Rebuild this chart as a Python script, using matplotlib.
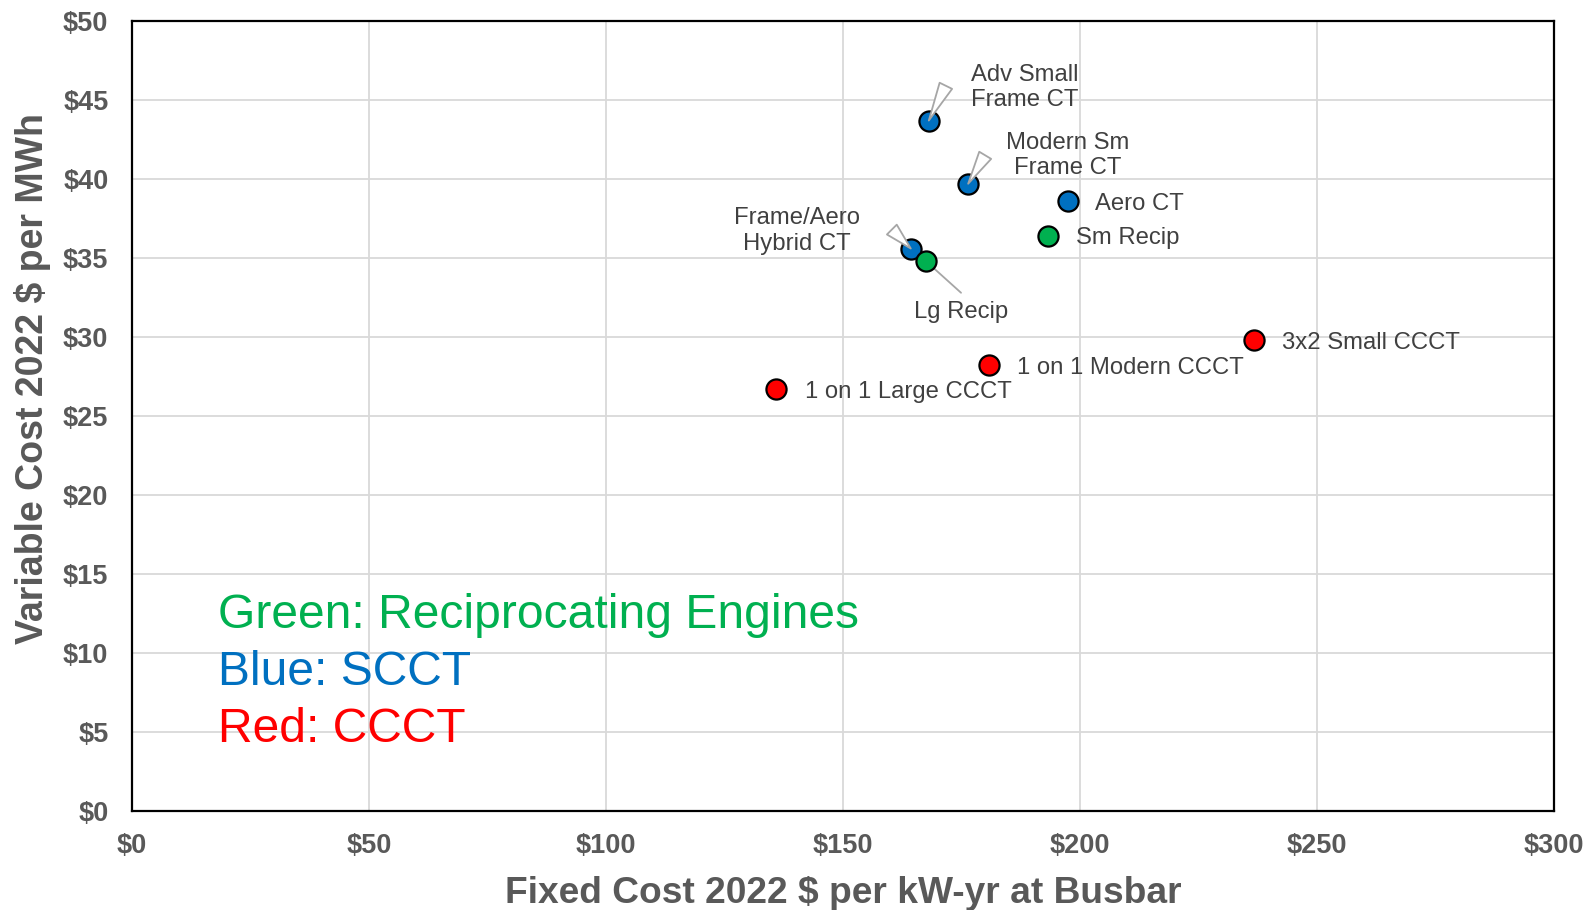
import matplotlib
matplotlib.use("Agg")
import matplotlib.pyplot as plt

plt.rcParams['font.family'] = ['Liberation Sans', 'DejaVu Sans']

names = ["Adv Small\nFrame CT", "Modern Sm\nFrame CT", "Aero CT", "Sm Recip",
         "Frame/Aero\nHybrid CT", "Lg Recip", "3x2 Small CCCT",
         "1 on 1 Modern CCCT", "1 on 1 Large CCCT"]
fixed_cost = [168.1, 176.4, 197.4, 193.3, 164.3, 167.5, 236.8, 180.9, 135.9]
variable_cost = [43.7, 39.7, 38.6, 36.4, 35.6, 34.8, 29.8, 28.2, 26.7]
groups = ["SCCT", "SCCT", "SCCT", "Recip", "SCCT", "Recip", "CCCT", "CCCT", "CCCT"]

group_colors = {"Recip": "#00B050", "SCCT": "#0070C0", "CCCT": "#FF0000"}
xticks = [0, 50, 100, 150, 200, 250, 300]
yticks = [0, 5, 10, 15, 20, 25, 30, 35, 40, 45, 50]

legend_lines = ["Green: Reciprocating Engines", "Blue: SCCT", "Red: CCCT"]
legend_groups = ["Recip", "SCCT", "CCCT"]

fig = plt.figure(figsize=(15.87, 9.10), dpi=100)
ax = fig.add_axes([0.0832, 0.1088, 0.8960, 0.8681])

ax.set_xlim(0, 300)
ax.set_ylim(0, 50)
ax.set_xticks(xticks)
ax.set_yticks(yticks)
ax.set_xticklabels([f"${v}" for v in xticks])
ax.set_yticklabels([f"${v}" for v in yticks])
ax.tick_params(length=0, labelsize=19.5, labelcolor="#595959")
ax.tick_params(axis="x", pad=16)
ax.tick_params(axis="y", pad=17)
for lab in ax.get_xticklabels() + ax.get_yticklabels():
    lab.set_fontweight("bold")
ax.grid(True, color="#D9D9D9", linewidth=1.3)
ax.set_axisbelow(True)
for sp in ax.spines.values():
    sp.set_linewidth(1.6)
    sp.set_color("black")

for x, y, g in zip(fixed_cost, variable_cost, groups):
    ax.scatter([x], [y], s=210, c=group_colors[g], edgecolors="black",
               linewidths=1.6, zorder=5)

ax.set_xlabel("Fixed Cost 2022 $ per kW-yr at Busbar", fontsize=26.7,
              fontweight="bold", color="#595959", va="center")
ax.xaxis.set_label_coords(0.5, -0.104)
ax.set_ylabel("Variable Cost 2022 $ per MWh", fontsize=27,
              fontweight="bold", color="#595959", va="center")
ax.yaxis.set_label_coords(-0.070, 0.547)

lab_kw = dict(fontsize=17.2, color="#404040", zorder=6)
wedge = dict(arrowstyle="wedge,tail_width=1.0,shrink_factor=0.5",
             fc="white", ec="#A6A6A6", lw=1.3, shrinkA=0, shrinkB=0)

ax.annotate(names[0], xy=(fixed_cost[0], variable_cost[0]), xytext=(188.4, 45.8),
            ha="center", va="center", linespacing=1.2, **lab_kw)
ax.annotate("", xy=(fixed_cost[0], variable_cost[0]), xytext=(171.7, 45.9),
            arrowprops=wedge, zorder=6)
ax.annotate(names[1], xy=(fixed_cost[1], variable_cost[1]), xytext=(197.3, 41.5),
            ha="center", va="center", linespacing=1.2, **lab_kw)
ax.annotate("", xy=(fixed_cost[1], variable_cost[1]), xytext=(180.0, 41.5),
            arrowprops=wedge, zorder=6)
ax.annotate(names[4], xy=(fixed_cost[4], variable_cost[4]), xytext=(140.2, 36.7),
            ha="center", va="center", linespacing=1.2, **lab_kw)
ax.annotate("", xy=(fixed_cost[4], variable_cost[4]), xytext=(160.3, 36.8),
            arrowprops=wedge, zorder=6)
ax.annotate(names[5], xy=(fixed_cost[5], variable_cost[5]), xytext=(175.0, 31.6),
            ha="center", va="center", **lab_kw)
ax.annotate("", xy=(fixed_cost[5], variable_cost[5]), xytext=(174.9, 32.8),
            arrowprops=dict(arrowstyle="-", color="#A6A6A6", lw=1.3,
                            shrinkA=0, shrinkB=0), zorder=4)

right_offsets = {2: 5.7, 3: 5.8, 6: 5.8, 7: 5.8, 8: 6.0}
for i, dx in right_offsets.items():
    ax.text(fixed_cost[i] + dx, variable_cost[i], names[i], ha="left",
            va="center_baseline", **lab_kw)

legend_y = [12.35, 8.75, 5.15]
for t, g, yy in zip(legend_lines, legend_groups, legend_y):
    ax.text(18.1, yy, t, color=group_colors[g], fontsize=34.6, ha="left",
            va="center")

fig.savefig("out.png", dpi=100)
